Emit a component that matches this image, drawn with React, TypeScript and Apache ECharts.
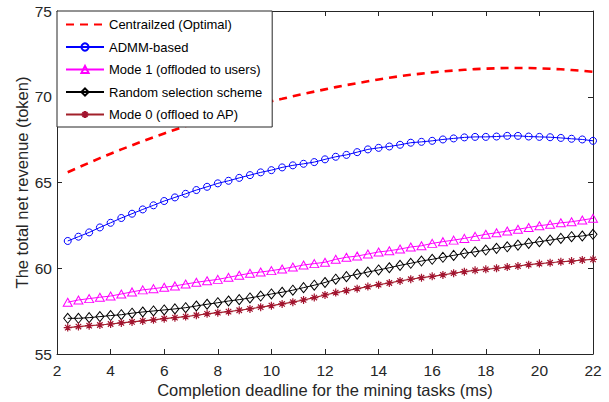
import React, { useEffect, useRef } from "react";
import * as echarts from "echarts";

const deadlines = [
  2.4, 2.8, 3.2, 3.6, 4.0, 4.4, 4.8, 5.2, 5.6, 6.0,
  6.4, 6.8, 7.2, 7.6, 8.0, 8.4, 8.8, 9.2, 9.6, 10.0,
  10.4, 10.8, 11.2, 11.6, 12.0, 12.4, 12.8, 13.2, 13.6, 14.0,
  14.4, 14.8, 15.2, 15.6, 16.0, 16.4, 16.8, 17.2, 17.6, 18.0,
  18.4, 18.8, 19.2, 19.6, 20.0, 20.4, 20.8, 21.2, 21.6, 22.0,
];

const centralized = [
  65.60, 65.88, 66.15, 66.42, 66.68, 66.93, 67.17, 67.41, 67.64, 67.86,
  68.08, 68.29, 68.50, 68.70, 68.90, 69.09, 69.28, 69.45, 69.60, 69.74,
  69.88, 70.03, 70.17, 70.30, 70.43, 70.56, 70.68, 70.79, 70.90, 71.01,
  71.11, 71.20, 71.28, 71.35, 71.42, 71.48, 71.53, 71.57, 71.61, 71.64,
  71.66, 71.68, 71.68, 71.68, 71.66, 71.63, 71.60, 71.56, 71.51, 71.45,
];

const admm = [
  61.59, 61.84, 62.09, 62.38, 62.65, 62.93, 63.18, 63.43, 63.67, 63.92,
  64.13, 64.34, 64.56, 64.75, 64.95, 65.10, 65.27, 65.43, 65.59, 65.72,
  65.88, 66.00, 66.09, 66.19, 66.35, 66.50, 66.61, 66.77, 66.93, 67.02,
  67.10, 67.20, 67.32, 67.37, 67.43, 67.51, 67.57, 67.63, 67.66, 67.66,
  67.68, 67.72, 67.72, 67.68, 67.66, 67.64, 67.60, 67.55, 67.51, 67.43,
];

const mode1 = [
  58.02, 58.15, 58.23, 58.31, 58.38, 58.50, 58.62, 58.74, 58.81, 58.89,
  58.97, 59.08, 59.18, 59.27, 59.35, 59.47, 59.59, 59.71, 59.78, 59.86,
  59.96, 60.07, 60.19, 60.27, 60.35, 60.52, 60.64, 60.71, 60.83, 60.95,
  61.02, 61.12, 61.24, 61.31, 61.45, 61.55, 61.64, 61.74, 61.86, 61.98,
  62.07, 62.17, 62.27, 62.38, 62.48, 62.56, 62.65, 62.71, 62.81, 62.91,
];

const randomScheme = [
  57.08, 57.08, 57.12, 57.18, 57.24, 57.29, 57.38, 57.45, 57.51, 57.57,
  57.63, 57.70, 57.80, 57.90, 57.99, 58.09, 58.17, 58.27, 58.38, 58.50,
  58.60, 58.72, 58.87, 59.01, 59.17, 59.36, 59.51, 59.65, 59.78, 59.90,
  60.03, 60.17, 60.29, 60.42, 60.52, 60.64, 60.75, 60.87, 60.96, 61.06,
  61.16, 61.25, 61.35, 61.45, 61.55, 61.64, 61.74, 61.84, 61.88, 61.98,
];

const mode0 = [
  56.54, 56.60, 56.65, 56.69, 56.75, 56.81, 56.87, 56.93, 56.99, 57.06,
  57.12, 57.18, 57.26, 57.34, 57.41, 57.47, 57.55, 57.63, 57.73, 57.82,
  57.92, 58.02, 58.15, 58.29, 58.44, 58.58, 58.69, 58.81, 58.93, 59.04,
  59.14, 59.26, 59.36, 59.45, 59.53, 59.61, 59.71, 59.80, 59.88, 59.94,
  60.00, 60.07, 60.13, 60.21, 60.27, 60.32, 60.38, 60.42, 60.48, 60.52,
];

const seriesNames = [
  "Centrailzed (Optimal)",
  "ADMM-based",
  "Mode 1 (offloded to users)",
  "Random selection scheme",
  "Mode 0 (offloed to AP)",
];

const xTitle = "Completion deadline for the mining tasks (ms)";
const yTitle = "The total net revenue (token)";

const FONT = "'Liberation Sans', Arial, Helvetica, sans-serif";
const TEXT = "#262626";
const ASTERISK = "path://M5,0L5,10M0,5L10,5M1.6,1.6L8.4,8.4M1.6,8.4L8.4,1.6";

const pairs = (ys: number[]) => deadlines.map((x, i) => [x, ys[i]]);

export default function App() {
  const ref = useRef<HTMLDivElement>(null);
  useEffect(() => {
    if (!ref.current) return;
    const chart = echarts.init(ref.current, null, { renderer: "svg" });
    const axisCommon = {
      type: "value" as const,
      splitLine: { show: false },
      axisLine: { show: true, onZero: false, lineStyle: { color: TEXT, width: 1 } },
      axisTick: { show: true, inside: true, length: 5, lineStyle: { color: TEXT } },
    };
    chart.setOption({
      animation: false,
      backgroundColor: "#fff",
      textStyle: { fontFamily: FONT },
      grid: {
        left: 57,
        right: 16,
        top: 11,
        bottom: 48,
        containLabel: false,
        outerBoundsMode: "none",
      },
      legend: {
        orient: "vertical",
        left: 57,
        top: 11,
        data: [
          { name: seriesNames[0], itemStyle: { opacity: 0 } },
          { name: seriesNames[1] },
          { name: seriesNames[2] },
          { name: seriesNames[3] },
          { name: seriesNames[4] },
        ],
        backgroundColor: "#fff",
        borderColor: TEXT,
        borderWidth: 1,
        padding: [7, 10, 6, 8],
        itemWidth: 38,
        itemHeight: 9,
        itemGap: 9.5,
        textStyle: { fontSize: 13, color: "#000", fontFamily: FONT },
      },
      xAxis: [
        {
          ...axisCommon,
          position: "bottom",
          min: 2,
          max: 22,
          interval: 2,
          name: xTitle,
          nameLocation: "middle",
          nameGap: 27,
          nameMoveOverlap: false,
          nameTextStyle: { fontSize: 16.5, color: TEXT, fontFamily: FONT },
          axisLabel: { fontSize: 15.5, color: TEXT, margin: 8, fontFamily: FONT },
        },
        {
          ...axisCommon,
          position: "top",
          min: 2,
          max: 22,
          interval: 2,
          axisLabel: { show: false },
        },
      ],
      yAxis: [
        {
          ...axisCommon,
          position: "left",
          min: 55,
          max: 75,
          interval: 5,
          name: yTitle,
          nameLocation: "middle",
          nameGap: 27,
          nameMoveOverlap: false,
          nameTextStyle: { fontSize: 16.5, color: TEXT, fontFamily: FONT },
          axisLabel: { fontSize: 15.5, color: TEXT, margin: 5, fontFamily: FONT },
        },
        {
          ...axisCommon,
          position: "right",
          min: 55,
          max: 75,
          interval: 5,
          axisLabel: { show: false },
        },
      ],
      series: [
        {
          name: seriesNames[0],
          type: "line",
          data: pairs(centralized),
          symbol: "none",
          showSymbol: false,
          lineStyle: { color: "#ff0000", width: 2.6, type: [8, 6] },
          itemStyle: { color: "#ff0000" },
          z: 3,
        },
        {
          name: seriesNames[1],
          type: "line",
          data: pairs(admm),
          symbol: "circle",
          symbolSize: 7,
          lineStyle: { color: "#0000ff", width: 1 },
          itemStyle: { color: "rgba(0,0,0,0)", borderColor: "#0000ff", borderWidth: 1 },
        },
        {
          name: seriesNames[2],
          type: "line",
          data: pairs(mode1),
          symbol: "triangle",
          symbolSize: [9, 8],
          lineStyle: { color: "#ff00ff", width: 1 },
          itemStyle: { color: "rgba(0,0,0,0)", borderColor: "#ff00ff", borderWidth: 1 },
        },
        {
          name: seriesNames[3],
          type: "line",
          data: pairs(randomScheme),
          symbol: "diamond",
          symbolSize: [8, 10],
          lineStyle: { color: "#000000", width: 1 },
          itemStyle: { color: "rgba(0,0,0,0)", borderColor: "#000000", borderWidth: 1 },
        },
        {
          name: seriesNames[4],
          type: "line",
          data: pairs(mode0),
          symbol: ASTERISK,
          symbolSize: 8,
          lineStyle: { color: "#a2202a", width: 1.2 },
          itemStyle: { color: "rgba(0,0,0,0)", borderColor: "#a2142f", borderWidth: 1.2 },
        },
      ],
    });
    return () => chart.dispose();
  }, []);
  return (
    <div
      ref={ref}
      style={{ position: "absolute", left: 0, top: 0, width: 609, height: 402 }}
    />
  );
}
